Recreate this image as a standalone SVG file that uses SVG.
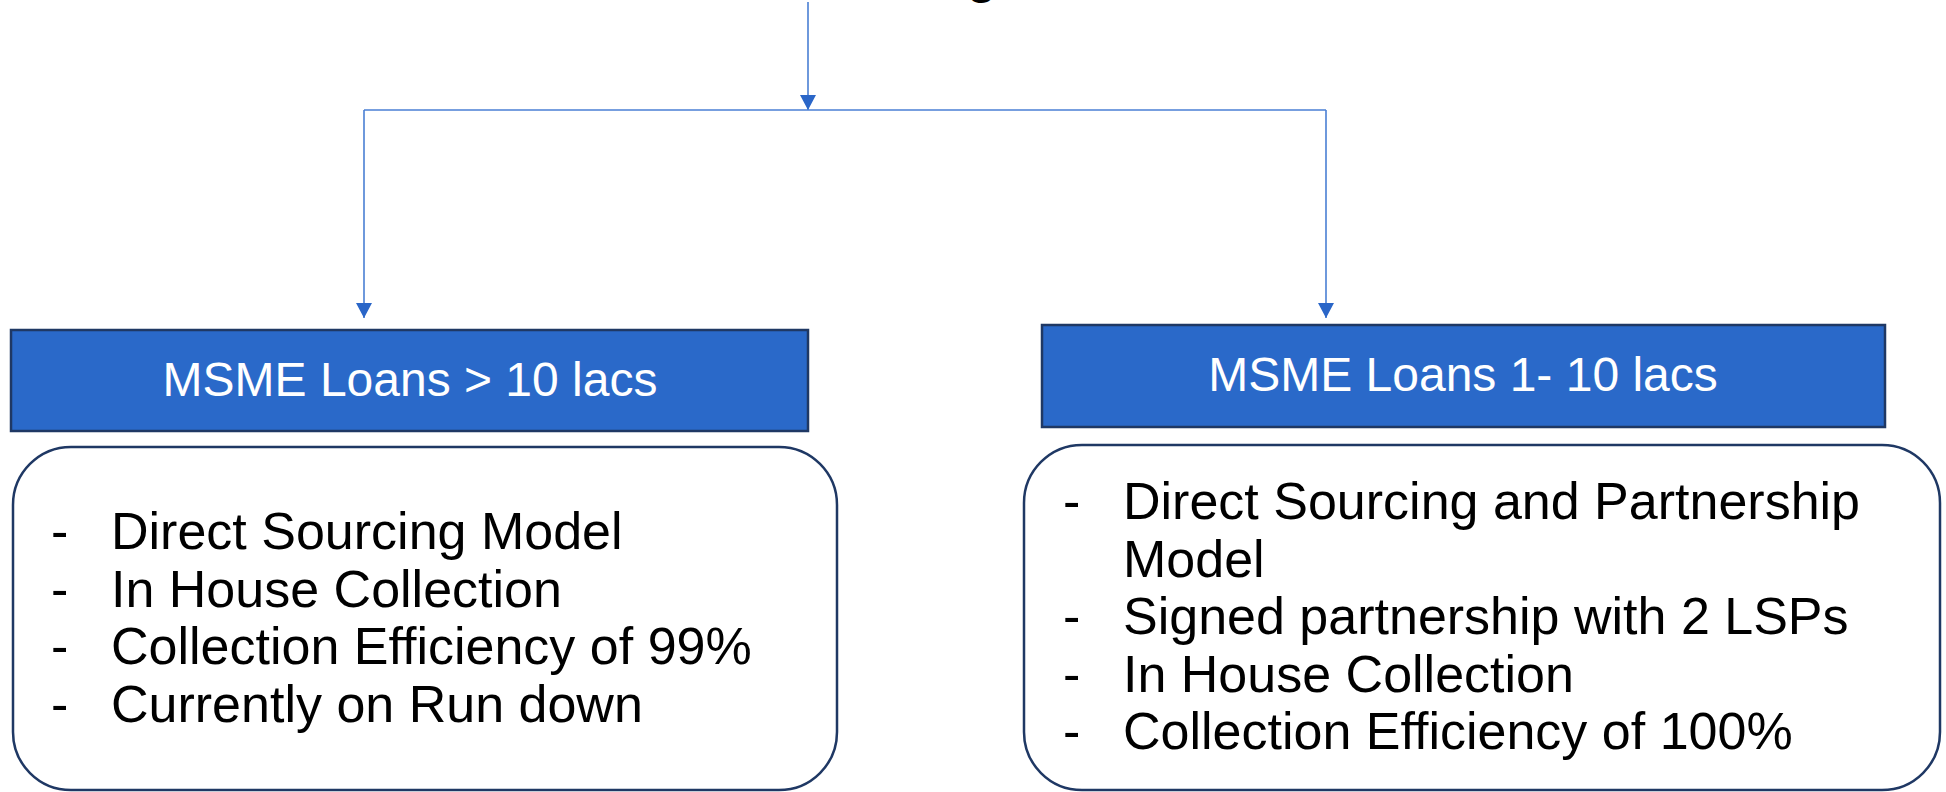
<svg xmlns="http://www.w3.org/2000/svg" width="1946" height="792" viewBox="0 0 1946 792">
  <style>
    .conn { fill: none; stroke: #4a7fd4; stroke-width: 1.6; }
    .head { fill: #2a66c8; }
    .hdr { fill: #2a69c9; stroke: #1f3864; stroke-width: 2.5; }
    .card { fill: #ffffff; stroke: #1f3864; stroke-width: 2.5; }
    .hdrtxt { font-family: "Liberation Sans", Arial, sans-serif; font-size: 48px; fill: #ffffff; text-anchor: middle; }
    .body { font-family: "Liberation Sans", Arial, sans-serif; font-size: 52px; fill: #000000; }
    .top { font-family: "Liberation Sans", Arial, sans-serif; font-size: 48px; font-weight: bold; fill: #000000; }
  </style>
  <defs>
    <marker id="arrow" markerUnits="userSpaceOnUse" markerWidth="16" markerHeight="16" refX="15" refY="8" orient="auto" viewBox="0 0 16 16">
      <path class="head" d="M0,0 L15,8 L0,16 z"/>
    </marker>
  </defs>
  <rect width="1946" height="792" fill="#ffffff"/>

  <text class="top" x="967" y="-7">g</text>

  <g id="connectors">
    <path class="conn" d="M808,2 V110" marker-end="url(#arrow)"/>
    <path class="conn" d="M364,110 H1326"/>
    <path class="conn" d="M364,110 V318" marker-end="url(#arrow)"/>
    <path class="conn" d="M1326,110 V318" marker-end="url(#arrow)"/>
  </g>

  <g id="node-left-header">
    <rect class="hdr" x="11" y="330" width="797" height="101"/>
    <text class="hdrtxt" x="410" y="396">MSME Loans &gt; 10 lacs</text>
  </g>

  <g id="node-right-header">
    <rect class="hdr" x="1042" y="325" width="843" height="102"/>
    <text class="hdrtxt" x="1463" y="391">MSME Loans 1- 10 lacs</text>
  </g>

  <g id="node-left-card">
    <rect class="card" x="13" y="447" width="824" height="343" rx="58" ry="58"/>
    <text class="body">
      <tspan x="51" y="549">-</tspan><tspan x="111" y="549">Direct Sourcing Model</tspan>
      <tspan x="51" y="607">-</tspan><tspan x="111" y="607">In House Collection</tspan>
      <tspan x="51" y="664">-</tspan><tspan x="111" y="664">Collection Efficiency of 99%</tspan>
      <tspan x="51" y="722">-</tspan><tspan x="111" y="722">Currently on Run down</tspan>
    </text>
  </g>

  <g id="node-right-card">
    <rect class="card" x="1024" y="445" width="916" height="345" rx="58" ry="58"/>
    <text class="body">
      <tspan x="1063" y="519">-</tspan><tspan x="1123" y="519">Direct Sourcing and Partnership</tspan>
      <tspan x="1123" y="577">Model</tspan>
      <tspan x="1063" y="634">-</tspan><tspan x="1123" y="634">Signed partnership with 2 LSPs</tspan>
      <tspan x="1063" y="692">-</tspan><tspan x="1123" y="692">In House Collection</tspan>
      <tspan x="1063" y="749">-</tspan><tspan x="1123" y="749">Collection Efficiency of 100%</tspan>
    </text>
  </g>
</svg>
